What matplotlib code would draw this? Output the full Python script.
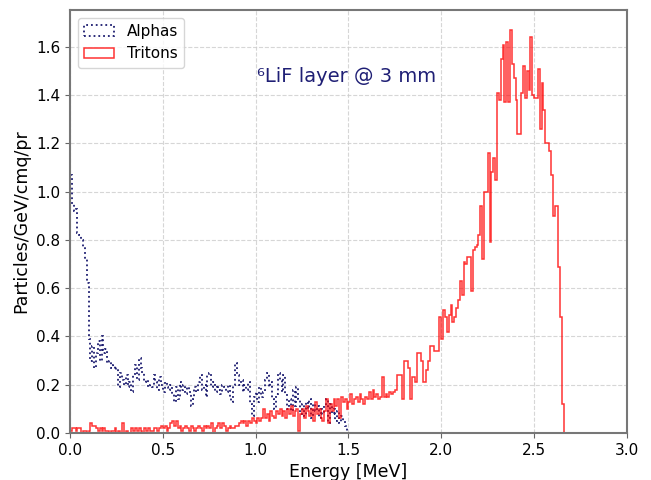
import numpy as np
import matplotlib
matplotlib.use("Agg")
import matplotlib.pyplot as plt

# --- bin edges: 0.01 MeV bins from 0 to 3 MeV
edges = np.linspace(0.0, 3.0, 301)

# --- alpha spectrum, bins 0.00 - 1.49 MeV (zero above)
alphas = [
    1.07, 0.95, 0.92, 0.93, 0.83, 0.82, 0.80, 0.77, 0.72, 0.62,
    0.39, 0.30, 0.36, 0.27, 0.33, 0.38, 0.30, 0.40, 0.33, 0.35,
    0.29, 0.30, 0.27, 0.28, 0.26, 0.27, 0.19, 0.25, 0.22, 0.20,
    0.24, 0.19, 0.21, 0.17, 0.24, 0.28, 0.22, 0.31, 0.27, 0.25,
    0.21, 0.22, 0.19, 0.20, 0.19, 0.24, 0.21, 0.18, 0.23, 0.20,
    0.17, 0.21, 0.19, 0.18, 0.20, 0.16, 0.13, 0.19, 0.14, 0.21,
    0.18, 0.20, 0.16, 0.19, 0.17, 0.11, 0.14, 0.19, 0.17, 0.21,
    0.24, 0.18, 0.20, 0.15, 0.24, 0.25, 0.19, 0.21, 0.17, 0.20,
    0.18, 0.16, 0.20, 0.19, 0.17, 0.20, 0.15, 0.13, 0.20, 0.29,
    0.24, 0.20, 0.22, 0.17, 0.20, 0.18, 0.21, 0.12, 0.07, 0.15,
    0.17, 0.13, 0.19, 0.15, 0.17, 0.22, 0.25, 0.19, 0.21, 0.14,
    0.10, 0.16, 0.25, 0.22, 0.17, 0.24, 0.16, 0.10, 0.14, 0.09,
    0.18, 0.11, 0.19, 0.14, 0.08, 0.12, 0.07, 0.13, 0.10, 0.14,
    0.06, 0.12, 0.09, 0.11, 0.06, 0.10, 0.08, 0.11, 0.14, 0.04,
    0.12, 0.08, 0.10, 0.05, 0.09, 0.04, 0.07, 0.05, 0.03, 0.00,
] + [0.0] * 150

# --- triton spectrum, bins 0.00 - 2.64 MeV (zero above)
tritons = [
    0.01, 0.02, 0.02, 0.01, 0.02, 0.02, 0.00, 0.01, 0.01, 0.00,
    0.01, 0.04, 0.03, 0.03, 0.02, 0.01, 0.02, 0.01, 0.02, 0.01,
    0.01, 0.00, 0.01, 0.01, 0.02, 0.00, 0.01, 0.00, 0.04, 0.00,
    0.01, 0.00, 0.00, 0.02, 0.01, 0.02, 0.01, 0.02, 0.01, 0.00,
    0.02, 0.01, 0.02, 0.01, 0.01, 0.02, 0.02, 0.01, 0.02, 0.03,
    0.02, 0.03, 0.01, 0.02, 0.04, 0.05, 0.03, 0.05, 0.02, 0.03,
    0.01, 0.02, 0.03, 0.02, 0.01, 0.03, 0.02, 0.01, 0.02, 0.03,
    0.02, 0.01, 0.03, 0.02, 0.03, 0.02, 0.04, 0.00, 0.02, 0.03,
    0.04, 0.02, 0.04, 0.03, 0.01, 0.02, 0.03, 0.02, 0.02, 0.03,
    0.03, 0.04, 0.05, 0.04, 0.05, 0.03, 0.05, 0.04, 0.06, 0.05,
    0.04, 0.06, 0.05, 0.06, 0.10, 0.06, 0.08, 0.05, 0.09, 0.07,
    0.06, 0.09, 0.08, 0.10, 0.07, 0.09, 0.06, 0.10, 0.08, 0.11,
    0.07, 0.09, 0.10, 0.01, 0.08, 0.10, 0.06, 0.11, 0.09, 0.07,
    0.10, 0.05, 0.13, 0.08, 0.10, 0.06, 0.05, 0.09, 0.14, 0.04,
    0.12, 0.09, 0.14, 0.11, 0.14, 0.06, 0.15, 0.13, 0.14, 0.10,
    0.13, 0.16, 0.12, 0.14, 0.15, 0.13, 0.16, 0.14, 0.12, 0.15,
    0.14, 0.17, 0.14, 0.18, 0.15, 0.16, 0.14, 0.15, 0.23, 0.15,
    0.16, 0.15, 0.17, 0.16, 0.17, 0.18, 0.24, 0.24, 0.24, 0.14,
    0.30, 0.30, 0.27, 0.14, 0.23, 0.23, 0.21, 0.33, 0.33, 0.30,
    0.21, 0.21, 0.26, 0.30, 0.36, 0.36, 0.34, 0.34, 0.34, 0.48,
    0.39, 0.51, 0.48, 0.42, 0.49, 0.53, 0.46, 0.48, 0.52, 0.55,
    0.63, 0.57, 0.71, 0.70, 0.73, 0.73, 0.59, 0.76, 0.77, 0.78,
    0.82, 0.94, 0.72, 1.00, 1.00, 1.16, 0.79, 1.08, 1.14, 1.05,
    1.41, 1.38, 1.55, 1.61, 1.37, 1.62, 1.37, 1.67, 1.53, 1.47,
    1.38, 1.24, 1.24, 1.41, 1.52, 1.39, 1.50, 1.42, 1.64, 1.40,
    1.39, 1.39, 1.51, 1.26, 1.45, 1.34, 1.20, 1.20, 1.17, 1.07,
    0.90, 0.94, 0.94, 0.69, 0.48, 0.12,
] + [0.0] * 34

centers = edges[:-1] + 0.005

fig, ax = plt.subplots(figsize=(6.51, 4.8), dpi=100)
fig.subplots_adjust(left=0.1075, right=0.963, bottom=0.098, top=0.979)

ax.hist(centers, bins=edges, weights=alphas, histtype="step",
        color="#1c1c70", linestyle=":", linewidth=1.3, label="Alphas")
ax.hist(centers, bins=edges, weights=tritons, histtype="step",
        color="red", alpha=0.8, linewidth=1.1, label="Tritons")

ax.set_xlim(0, 3.0)
ax.set_ylim(0, 1.753)
ax.set_xticks(np.arange(0, 3.01, 0.5))
ax.set_yticks(np.arange(0, 1.61, 0.2))
ax.xaxis.set_major_formatter(matplotlib.ticker.FormatStrFormatter("%.1f"))
ax.yaxis.set_major_formatter(matplotlib.ticker.FormatStrFormatter("%.1f"))
ax.tick_params(labelsize=11, color="#666666")

ax.grid(True, linestyle="--", color="#cccccc", linewidth=0.8, alpha=0.8)
ax.set_axisbelow(True)
for sp in ax.spines.values():
    sp.set_color("#777777")
    sp.set_linewidth(1.5)

ax.set_xlabel("Energy [MeV]", fontsize=12.5)
ax.set_ylabel("Particles/GeV/cmq/pr", fontsize=12.5)

ax.text(0.497, 0.843, "\u2076LiF layer @ 3 mm", transform=ax.transAxes,
        ha="center", va="center", fontsize=14, color="#1f1f75")

ax.legend(loc="upper left", fontsize=11)

fig.savefig("out.png", dpi=100)
